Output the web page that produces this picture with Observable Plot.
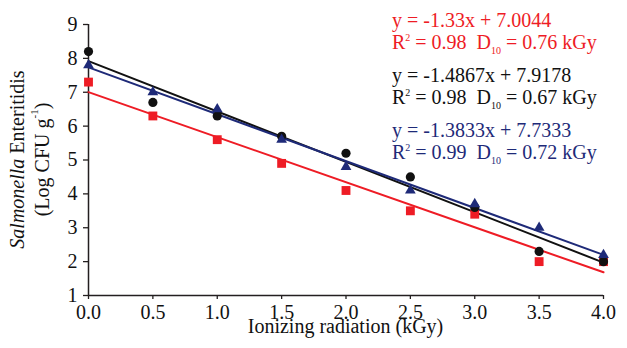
<!DOCTYPE html>
<html>
<head>
<meta charset="utf-8">
<script src="https://cdn.jsdelivr.net/npm/d3@7"></script>
<script src="https://cdn.jsdelivr.net/npm/@observablehq/plot@0.6"></script>
<style>
  html, body { margin: 0; padding: 0; background: #fff; }
  #chart svg { display: block; }
</style>
</head>
<body>
<div id="chart"></div>
<script>
// ---- data ----
const doses = [0, 0.5, 1.0, 1.5, 2.0, 2.5, 3.0, 3.5, 4.0];
const redValues   = [7.3, 6.3, 5.6, 4.9, 4.1, 3.5, 3.4, 2.0, 2.0];
const blackValues = [8.2, 6.7, 6.3, 5.7, 5.2, 4.5, 3.6, 2.3, 2.0];
const blueValues  = [7.8, 7.0, 6.5, 5.6, 4.8, 4.1, 3.7, 3.0, 2.2];

const seriesNames = ["red", "black", "blue"];
const seriesColors = ["#ee1c25", "#111111", "#1e2a78"];
const seriesSymbols = ["square", "circle", "triangle"];
const seriesRadius = [5, 4.6, 4];
const fitSlopes = [-1.33, -1.4867, -1.3833];
const fitIntercepts = [7.0044, 7.9178, 7.7333];
const fitR2 = ["0.98", "0.98", "0.99"];
const fitD10 = ["0.76", "0.67", "0.72"];
const eqLines = ["y = -1.33x + 7.0044", "y = -1.4867x + 7.9178", "y = -1.3833x + 7.7333"];

const xTicks = [0, 0.5, 1.0, 1.5, 2.0, 2.5, 3.0, 3.5, 4.0];
const yTicks = [1, 2, 3, 4, 5, 6, 7, 8, 9];
const xDomain = [0, 4];
const yDomain = [1, 9];

// ---- build tables ----
const valueSets = [redValues, blackValues, blueValues];
const points = seriesNames.map((s, i) => doses.map((d, j) => ({series: s, x: d, y: valueSets[i][j]})));
const fits = seriesNames.map((s, i) => xDomain.map(x => ({series: s, x, y: fitSlopes[i] * x + fitIntercepts[i]})));

const axisColor = "#231f20";
const font = "'Liberation Serif', 'Times New Roman', serif";

const marks = [
  Plot.ruleX([0], {y1: yDomain[0], y2: yDomain[1], stroke: axisColor, strokeWidth: 1.5}),
  Plot.ruleY([yDomain[0]], {x1: xDomain[0], x2: xDomain[1], stroke: axisColor, strokeWidth: 1.5}),
  Plot.axisX({ticks: xTicks, tickFormat: d3.format(".1f"), tickSize: 4, tickPadding: 5, label: null, stroke: axisColor, strokeWidth: 1.3, fill: "#111"}),
  Plot.axisY({ticks: yTicks, tickFormat: d3.format("d"), tickSize: 5, tickPadding: 6, label: null, stroke: axisColor, strokeWidth: 1.3, fill: "#111"})
];
fits.forEach((f, i) => marks.push(Plot.line(f, {x: "x", y: "y", stroke: seriesColors[i], strokeWidth: 2})));
points.forEach((p, i) => marks.push(Plot.dot(p, {x: "x", y: "y", symbol: seriesSymbols[i], r: seriesRadius[i], fill: seriesColors[i], stroke: "none"})));

const plot = Plot.plot({
  width: 627,
  height: 348,
  marginLeft: 88,
  marginRight: 24,
  marginTop: 24,
  marginBottom: 53,
  x: {domain: xDomain},
  y: {domain: yDomain},
  style: {fontFamily: font, fontSize: "20px", color: "#111", background: "#fff"},
  marks
});
document.getElementById("chart").appendChild(plot);

// ---- text annotations ----
const svg = d3.select(plot);
const xs = plot.scale("x"), ys = plot.scale("y");
const cx = (xs.apply(xDomain[0]) + xs.apply(xDomain[1])) / 2;
const cy = (ys.apply(yDomain[0]) + ys.apply(yDomain[1])) / 2;

// x axis title
svg.append("text")
  .attr("x", cx).attr("y", 333)
  .attr("text-anchor", "middle")
  .attr("font-family", font).attr("font-size", 20).attr("fill", "#111")
  .text("Ionizing radiation (kGy)");

// y axis title (two lines, rotated)
const yl1 = svg.append("text")
  .attr("transform", `translate(17,${cy}) rotate(-90)`)
  .attr("text-anchor", "middle").attr("dominant-baseline", "central")
  .attr("font-family", font).attr("font-size", 20).attr("fill", "#111");
yl1.append("tspan").attr("font-style", "italic").text("Salmonella");
yl1.append("tspan").text(" Enteritidis");
const yl2 = svg.append("text")
  .attr("transform", `translate(42,${cy}) rotate(-90)`)
  .attr("text-anchor", "middle").attr("dominant-baseline", "central")
  .attr("font-family", font).attr("font-size", 20).attr("fill", "#111");
yl2.append("tspan").text("(Log CFU g");
yl2.append("tspan").attr("font-size", 11).attr("dy", -8).text("-1");
yl2.append("tspan").attr("dy", 8).text(")");

// regression equations
const eqX = 392;
seriesNames.forEach((s, i) => {
  const base = 27 + i * 55;
  svg.append("text")
    .attr("x", eqX).attr("y", base)
    .attr("text-anchor", "start")
    .attr("font-family", font).attr("font-size", 20).attr("fill", seriesColors[i])
    .text(eqLines[i]);
  const t = svg.append("text")
    .attr("x", eqX).attr("y", base + 21.5)
    .attr("text-anchor", "start")
    .attr("font-family", font).attr("font-size", 20).attr("fill", seriesColors[i])
    .style("white-space", "pre");
  t.append("tspan").text("R");
  t.append("tspan").attr("font-size", 10).attr("dy", -8).text("2");
  t.append("tspan").attr("dy", 8).text(` = ${fitR2[i]}  D`);
  t.append("tspan").attr("font-size", 10).attr("dy", 5).text("10");
  t.append("tspan").attr("dy", -5).text(` = ${fitD10[i]} kGy`);
});
</script>
</body>
</html>
